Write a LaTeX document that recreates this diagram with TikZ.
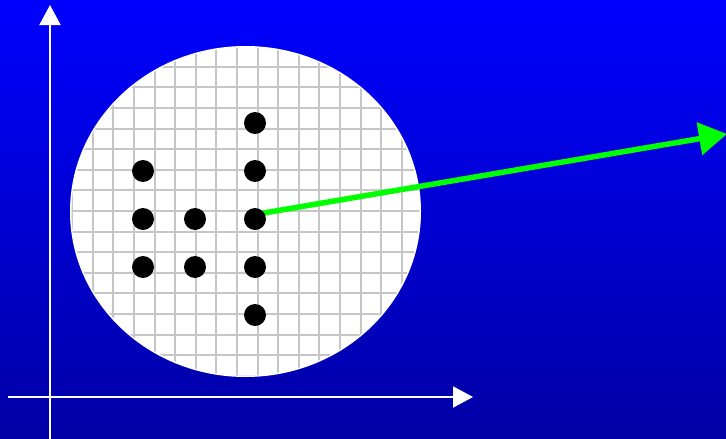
\documentclass[tikz,border=0pt]{standalone}
\usetikzlibrary{arrows.meta}
\definecolor{bgtop}{RGB}{0,0,255}
\definecolor{bgbot}{RGB}{0,0,165}
\definecolor{gridgray}{RGB}{198,198,198}
\definecolor{arrowgreen}{RGB}{0,255,0}
\begin{document}
\begin{tikzpicture}[x=1pt,y=-1pt,
  dot/.style={circle,fill=black,inner sep=0pt,minimum size=22pt},
  axis/.style={white,line width=2pt,-{Triangle[length=20pt,width=21pt]}},
  gridline/.style={gridgray,line width=2pt},
  vec/.style={arrowgreen,line width=5.5pt,-{Triangle[length=28pt,width=32pt]}}]
\useasboundingbox (0,0) rectangle (726,439);
\shade[top color=bgtop,bottom color=bgbot] (0,0) rectangle (726,439);
% axes
\coordinate (yb) at (50,439);
\coordinate (yt) at (50,5);
\coordinate (xl) at (8,397);
\coordinate (xr) at (473,397);
\draw[axis] (yb) -- (yt);
\draw[axis] (xl) -- (xr);
% ellipse with grid
\fill[white] (245.5,211.5) ellipse[x radius=175.5,y radius=165.5];
\begin{scope}
\clip (245.5,211.5) ellipse[x radius=174,y radius=164];
\foreach \k in {0,...,17} {
  \draw[gridline] ({72.1+20.6*\k},40) -- ({72.1+20.6*\k},380);
}
\foreach \k in {0,...,16} {
  \draw[gridline] (65,{46.2+20.6*\k}) -- (425,{46.2+20.6*\k});
}
\end{scope}
% dots
\node[dot] (d1) at (143,171) {};
\node[dot] (d2) at (143,219) {};
\node[dot] (d3) at (143,267) {};
\node[dot] (d4) at (195,219) {};
\node[dot] (d5) at (195,267) {};
\node[dot] (d6) at (255,123) {};
\node[dot] (d7) at (255,171) {};
\node[dot] (d9) at (255,267) {};
\node[dot] (d10) at (255,315) {};
% green vector
\coordinate (vs) at (255,214.5);
\coordinate (vt) at (727,134);
\draw[vec] (vs) -- (vt);
\node[dot] (d8) at (255,219) {};
\end{tikzpicture}
\end{document}
